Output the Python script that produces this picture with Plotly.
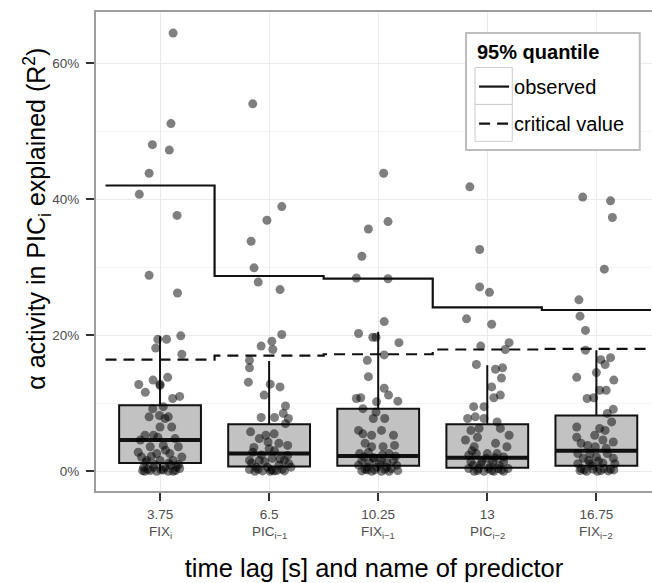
import plotly.graph_objects as go

# ---------------- data ----------------
lags = ["3.75", "6.5", "10.25", "13", "16.75"]
predictors = ["FIX<sub>i</sub>", "PIC<sub>i\u22121</sub>", "FIX<sub>i\u22121</sub>",
              "PIC<sub>i\u22122</sub>", "FIX<sub>i\u22122</sub>"]

# box statistics (% R^2)
q1 = [1.2, 0.7, 0.8, 0.5, 0.8]
med = [4.6, 2.6, 2.25, 2.0, 3.0]
q3 = [9.7, 6.9, 9.2, 6.9, 8.2]
lo_whisk = [0.0, 0.0, 0.0, 0.0, 0.0]
hi_whisk = [19.85, 16.2, 20.5, 15.6, 17.8]

# 95% quantile step lines
observed = [42.0, 28.7, 28.3, 24.1, 23.7]
critical = [16.4, 17.0, 17.2, 17.9, 18.0]

# jittered individual values: (jitter offset, value %)
g1_dx = [0.12, 0.10, -0.07, 0.085, -0.10, -0.19, 0.156, -0.10, 0.16, 0.19, -0.02, 0.06, -0.04, 0.20,
         -0.195, -0.135, -0.064, 0.0, 0.07, 0.116, 0.18, 0.0, 0.03,
         -0.10, -0.005, 0.046, -0.067, 0.076, 0.0, 0.107, -0.138, -0.06, -0.18, 0.138, -0.09, 0.03,
         0.168, -0.20, -0.03, 0.09, -0.17, 0.20, -0.12, 0.0, 0.12, -0.15, -0.06, 0.046, 0.15,
         -0.14, -0.03, 0.076, -0.09, 0.01, 0.12, 0.18,
         -0.16, -0.11, -0.05, 0.03, 0.08, 0.14, -0.08, 0.05, -0.13, 0.10, -0.02, 0.17]
g1_y = [64.4, 51.1, 48.0, 47.2, 43.8, 40.7, 37.6, 28.8, 26.2, 19.9, 19.4, 19.4, 18.1, 17.2,
        12.75, 11.6, 13.4, 12.8, 13.8, 10.7, 11.0, 12.6, 9.5,
        8.0, 8.2, 7.75, 9.2, 8.0, 6.5, 6.5, 5.3, 5.3, 4.6, 4.8, 3.6, 3.8,
        3.6, 2.8, 2.6, 2.6, 2.1, 2.1, 1.6, 1.6, 1.6, 0.6, 0.6, 0.6, 0.6,
        0.0, 0.0, 0.0, 0.1, 0.2, 0.0, 0.4,
        0.1, 0.3, 1.0, 0.2, 1.2, 0.1, 2.2, 3.1, 1.3, 0.9, 5.0, 1.0]

g2_dx = [-0.15, 0.116, -0.02, -0.165, -0.138, -0.10, 0.10, 0.116, 0.025, -0.073, 0.034, -0.18, -0.18,
         -0.19, 0.01, 0.10, -0.046, 0.15, 0.13, -0.073, 0.05, 0.177, 0.15,
         -0.17, -0.09, -0.03, 0.046, 0.09, 0.17, -0.15, 0.0, -0.18, -0.09, 0.03, 0.14,
         -0.12, -0.015, 0.09, 0.18, -0.18, -0.06, 0.046, 0.14, 0.20, -0.13, 0.01,
         -0.16, -0.10, -0.04, 0.02, 0.07, 0.12, 0.17, -0.07, 0.05, -0.14, 0.10, -0.01]
g2_y = [54.0, 38.9, 36.9, 33.8, 29.9, 27.8, 26.7, 20.1, 19.1, 18.4, 17.9, 16.3, 15.2,
        13.1, 12.8, 12.4, 11.2, 9.6, 8.5, 7.9, 7.9, 7.75, 7.0,
        5.8, 4.8, 5.3, 5.5, 4.1, 3.8, 2.8, 3.3, 1.6, 1.6, 1.9, 1.6,
        0.6, 0.6, 0.9, 1.1, 0.25, 0.05, 0.05, 0.05, 0.6, 0.0, 0.0,
        1.2, 0.3, 1.4, 0.2, 0.1, 0.3, 2.3, 2.4, 3.0, 3.5, 1.8, 4.3]

g3_dx = [0.05, -0.09, 0.09, -0.15, -0.20, 0.09, 0.055, -0.18, -0.05, -0.02, 0.19, -0.10, 0.055,
         -0.09, 0.055, 0.095, -0.20, -0.16, 0.18, -0.02, -0.015, -0.14, 0.06, -0.045,
         -0.18, -0.14, 0.03, 0.14, -0.06, -0.12, -0.06, 0.045, 0.15, -0.17, -0.09, 0.10,
         -0.15, -0.045, 0.03, 0.14, -0.18, -0.10, -0.015, 0.076, 0.17, -0.15, -0.06, 0.03, 0.10, 0.18,
         -0.12, -0.03, 0.06, 0.12, -0.08, 0.01, 0.08, -0.13, 0.16, -0.04, 0.04, -0.10]
g3_y = [43.8, 35.6, 36.7, 31.6, 28.4, 28.3, 22.0, 20.25, 19.7, 19.7, 18.9, 16.3, 17.1,
        13.9, 12.2, 11.2, 10.7, 10.8, 10.3, 8.7, 10.2, 9.2, 7.75, 7.75,
        6.0, 5.5, 6.0, 5.3, 5.3, 4.1, 3.6, 3.6, 3.8, 2.6, 2.8, 2.6,
        1.6, 1.9, 1.6, 1.6, 0.9, 0.6, 0.6, 0.6, 0.9, 0.05, 0.0, 0.0, 0.0, 0.1,
        0.3, 0.2, 0.3, 0.4, 1.2, 1.1, 1.3, 2.1, 2.2, 2.0, 2.4, 0.2]

g4_dx = [-0.16, -0.07, -0.07, 0.02, -0.19, 0.04, 0.20, -0.06, 0.165, -0.10, 0.075, 0.14, 0.13,
         0.04, 0.06, 0.12, -0.125, -0.03, -0.18, -0.11, -0.03, 0.09, -0.15, -0.075, 0.12, 0.20,
         -0.20, -0.09, 0.076, -0.12, 0.18, 0.0, -0.17, -0.10, 0.09, 0.15, -0.15, -0.05, 0.05, 0.15,
         -0.17, -0.08, 0.01, 0.10, 0.19, -0.12, -0.03, 0.06, 0.15,
         -0.13, -0.06, 0.03, 0.11, -0.01, 0.07, -0.14, 0.13, -0.09, 0.04]
g4_y = [41.8, 32.6, 27.1, 26.3, 22.4, 21.6, 18.9, 18.4, 17.9, 15.7, 15.0, 15.2, 13.7,
        12.4, 10.8, 11.2, 9.5, 9.5, 7.75, 8.0, 7.75, 7.25, 6.0, 6.3, 6.3, 5.3,
        4.6, 5.0, 4.1, 3.6, 3.6, 2.6, 2.35, 2.6, 2.6, 2.1, 1.4, 1.4, 1.4, 1.4,
        0.4, 0.4, 0.4, 0.4, 0.4, 0.0, 0.0, 0.0, 0.0,
        0.9, 1.0, 0.8, 0.9, 1.9, 2.0, 3.0, 0.2, 0.1, 0.1]

g5_dx = [-0.125, 0.13, 0.147, 0.073, -0.16, -0.15, -0.10, -0.10, 0.04, 0.13, 0.08, 0.0, -0.18,
         0.16, 0.03, 0.09, -0.085, -0.025, 0.155, 0.10, 0.14, -0.18, 0.03, 0.08, -0.18, -0.015,
         -0.14, 0.155, -0.08, -0.17, -0.06, 0.10, -0.12, 0.0, 0.155, -0.17, -0.06, 0.06, 0.17,
         -0.14, -0.03, 0.07, -0.09, 0.01, 0.11,
         -0.11, -0.04, 0.04, 0.13, -0.07, 0.02, 0.09, -0.15, 0.16, 0.06, -0.01]
g5_y = [40.3, 39.75, 37.3, 29.7, 25.2, 22.8, 20.7, 17.8, 16.4, 16.7, 15.7, 14.5, 13.8,
        13.4, 11.9, 11.9, 10.7, 10.8, 9.1, 8.5, 7.25, 6.5, 6.3, 6.0, 5.0, 5.3,
        4.1, 4.3, 3.8, 2.6, 2.6, 2.6, 1.9, 2.1, 1.9, 1.1, 1.1, 1.2, 1.1,
        0.4, 0.3, 0.4, 0.0, 0.0, 0.05,
        0.2, 0.8, 0.1, 0.3, 1.6, 1.5, 3.4, 0.1, 0.2, 4.6, 3.6]

groups_dx = [g1_dx, g2_dx, g3_dx, g4_dx, g5_dx]
groups_y = [g1_y, g2_y, g3_y, g4_y, g5_y]

legend_title = "95% quantile"
x_title = "time lag [s] and name of predictor"
y_title = "\u03b1 activity in PIC<sub>i</sub> explained (R<sup>2</sup>)"

# ---------------- figure ----------------
FONT = "Liberation Sans, Arial, Helvetica, sans-serif"
BOX_W = 0.75
n = len(lags)
idx = list(range(n))

fig = go.Figure()

for i in idx:
    fig.add_trace(go.Box(
        x=[i], q1=[q1[i]], median=[med[i]], q3=[q3[i]],
        lowerfence=[lo_whisk[i]], upperfence=[hi_whisk[i]],
        width=BOX_W, whiskerwidth=0,
        fillcolor="#c2c2c2", line=dict(color="#111111", width=2),
        boxpoints=False, showlegend=False, hoverinfo="skip"))

# thicker median bars
mx, my = [], []
for i in idx:
    mx += [i - BOX_W / 2, i + BOX_W / 2, None]
    my += [med[i], med[i], None]
fig.add_trace(go.Scatter(x=mx, y=my, mode="lines", line=dict(color="#111111", width=4),
                         showlegend=False, hoverinfo="skip"))

# jittered points
for i in idx:
    fig.add_trace(go.Scatter(
        x=[i + d for d in groups_dx[i]], y=groups_y[i], mode="markers",
        marker=dict(size=9, color="rgba(0,0,0,0.5)", line=dict(width=0)),
        showlegend=False, hoverinfo="skip"))

# step lines
step_x = [i - 0.5 for i in idx] + [idx[-1] + 0.5]
fig.add_trace(go.Scatter(x=step_x, y=observed + [observed[-1]], mode="lines", line_shape="hv",
                         line=dict(color="#111111", width=2.2), name="observed", legendgroup="a"))
fig.add_trace(go.Scatter(x=step_x, y=critical + [critical[-1]], mode="lines", line_shape="hv",
                         line=dict(color="#111111", width=2.2, dash="11px,7px"),
                         name="critical value", legendgroup="b"))

# predictor names under the lag tick labels
for i in idx:
    fig.add_annotation(x=i, xref="x", y=0, yref="paper", yanchor="top", yshift=-31,
                       text=predictors[i], showarrow=False,
                       font=dict(size=13.5, color="#4d4d4d", family=FONT))

# y axis title (placed as in the reference)
fig.add_annotation(x=-0.1065, xref="paper", y=0.568, yref="paper", xanchor="center", yanchor="middle",
                   text=y_title, textangle=-90, showarrow=False,
                   font=dict(size=25, color="#000", family=FONT))

# legend frame, key boxes and title (ggplot-style)
fig.add_shape(type="rect", xref="paper", yref="paper", x0=0.6655, x1=0.978, y0=0.712, y1=0.956,
              line=dict(color="#bdbdbd", width=2), fillcolor="white", layer="above")
fig.add_shape(type="rect", xref="paper", yref="paper", x0=0.6817, x1=0.7487, y0=0.807, y1=0.884,
              line=dict(color="#cccccc", width=1), layer="above")
fig.add_shape(type="rect", xref="paper", yref="paper", x0=0.6817, x1=0.7487, y0=0.730, y1=0.807,
              line=dict(color="#cccccc", width=1), layer="above")
fig.add_annotation(x=0.6817, xref="paper", y=0.917, yref="paper", xanchor="left", yanchor="middle",
                   text=f"<b>{legend_title}</b>", showarrow=False,
                   font=dict(size=20, color="#000", family=FONT))

fig.update_layout(
    width=652, height=583,
    margin=dict(l=96, r=0, t=12, b=92),
    paper_bgcolor="white", plot_bgcolor="white",
    font=dict(family=FONT, color="#000000"),
    legend=dict(
        x=0.680, y=0.885, xanchor="left", yanchor="top",
        bgcolor="rgba(0,0,0,0)", borderwidth=0,
        font=dict(size=20, color="#000"), tracegroupgap=8,
        itemwidth=30),
    xaxis=dict(
        range=[-0.587, 4.51], tickmode="array", tickvals=idx, ticktext=lags,
        showgrid=True, gridcolor="#ebebeb", gridwidth=1, zeroline=False,
        ticks="outside", ticklen=8, tickwidth=1.5, tickcolor="#333333",
        tickfont=dict(size=13.5, color="#4d4d4d"), automargin=False, ticklabelstandoff=2,
        showline=True, linecolor="#9e9e9e", linewidth=2, mirror=True,
        title=dict(text=x_title, font=dict(size=25.5, color="#000"), standoff=38),
    ),
    yaxis=dict(
        range=[-2.9, 67.5], tickmode="array", tickvals=[0, 20, 40, 60],
        ticktext=["0%", "20%", "40%", "60%"],
        showgrid=True, gridcolor="#ebebeb", gridwidth=1, zeroline=False,
        minor=dict(tickvals=[10, 30, 50], showgrid=True, gridcolor="#f5f5f5", gridwidth=1, ticks=""),
        ticks="outside", ticklen=8, tickwidth=1.5, tickcolor="#333333",
        tickfont=dict(size=13.5, color="#4d4d4d"), automargin=False, ticklabelstandoff=4,
        showline=True, linecolor="#9e9e9e", linewidth=2, mirror=True,
    ),
)

fig.write_html("out.html", config={"displayModeBar": False},
               post_script="document.body.style.margin='0px';")
